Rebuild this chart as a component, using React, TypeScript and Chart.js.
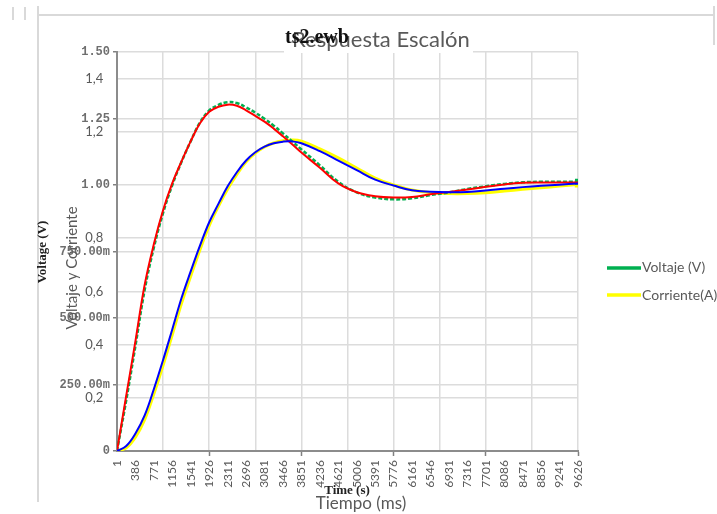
import React, { useEffect, useRef } from "react";
import { Chart, registerables } from "chart.js";

Chart.register(...registerables);

// Category (tick) labels of the time axis, in ms
const categories = [1, 386, 771, 1156, 1541, 1926, 2311, 2696, 3081, 3466, 3851, 4236, 4621, 5006, 5391, 5776, 6161, 6546, 6931, 7316, 7701, 8086, 8471, 8856, 9241, 9626];

// Sample times (ms) at which the curves were read
const timeMs = [1, 193, 386, 578, 771, 963, 1156, 1348, 1541, 1733, 1926, 2118, 2311, 2503, 2696, 2888, 3081, 3273, 3466, 3658, 3851, 4236, 4621, 5006, 5391, 5776, 6161, 6546, 6931, 7316, 7701, 8086, 8471, 8856, 9241, 9626];

// Excel series
const voltajeV = [0, 0.19, 0.395, 0.605, 0.765, 0.895, 1.0, 1.087, 1.165, 1.235, 1.28, 1.301, 1.311, 1.308, 1.292, 1.272, 1.249, 1.223, 1.194, 1.164, 1.134, 1.074, 1.012, 0.972, 0.953, 0.946, 0.95, 0.962, 0.972, 0.985, 0.995, 1.004, 1.01, 1.012, 1.012, 1.012];
const corrienteA = [0, 0.012, 0.052, 0.118, 0.215, 0.322, 0.438, 0.555, 0.658, 0.757, 0.847, 0.92, 0.985, 1.04, 1.087, 1.12, 1.143, 1.158, 1.166, 1.169, 1.165, 1.136, 1.102, 1.064, 1.026, 1.0, 0.981, 0.972, 0.968, 0.968, 0.971, 0.977, 0.984, 0.99, 0.996, 1.003];

// EWB simulation traces
const ewbVoltage = [0, 0.207, 0.413, 0.624, 0.778, 0.905, 1.007, 1.089, 1.165, 1.232, 1.275, 1.294, 1.302, 1.298, 1.281, 1.26, 1.238, 1.212, 1.183, 1.153, 1.122, 1.065, 1.006, 0.973, 0.958, 0.953, 0.955, 0.965, 0.974, 0.983, 0.993, 1.002, 1.008, 1.009, 1.009, 1.009];
const ewbCurrent = [0, 0.019, 0.066, 0.134, 0.233, 0.342, 0.458, 0.575, 0.676, 0.772, 0.86, 0.929, 0.995, 1.048, 1.092, 1.123, 1.144, 1.157, 1.163, 1.164, 1.157, 1.127, 1.092, 1.056, 1.02, 0.998, 0.98, 0.975, 0.973, 0.974, 0.979, 0.986, 0.992, 0.997, 1.001, 1.006];

// Y axis ticks: both the EWB (mono) and the Excel (comma) labels
const yTickValues = [0, 0.2, 0.25, 0.4, 0.5, 0.6, 0.75, 0.8, 1.0, 1.2, 1.25, 1.4, 1.5];
const yTickLabels = ["0", "0,2", "250.00m", "0,4", "500.00m", "0,6", "750.00m", "0,8", "1.00", "1,2", "1.25", "1,4", "1.50"];
const yTickIsEwb = [true, false, true, false, true, false, true, false, true, false, true, false, true];

// EWB grid divisions of the time axis (ms)
const xGridValues = [1, 963.5, 1926, 2888.5, 3851, 4813.5, 5776, 6738.5, 7701, 8663.5, 9626];

const pts = (ys: number[]) => ys.map((y, i) => ({ x: timeMs[i], y }));
const lastMarker = (n: number) => timeMs.map((_, i) => (i === n - 1 ? 2.5 : 0));

const overlayPlugin = {
  id: "overlay",
  beforeDraw(chart: any) {
    const c = chart.ctx;
    c.save();
    c.strokeStyle = "#d9d9d9";
    c.lineWidth = 2;
    c.beginPath();
    c.moveTo(38, 15); c.lineTo(713, 15);
    c.moveTo(38, 6); c.lineTo(38, 502);
    c.moveTo(714, 6); c.lineTo(714, 45);
    c.moveTo(13, 7); c.lineTo(13, 20);
    c.moveTo(25, 7); c.lineTo(25, 20);
    c.stroke();
    c.restore();
  },
  beforeDatasetsDraw(chart: any) {
    const c = chart.ctx;
    c.save();
    c.fillStyle = "#ffffff";
    c.fillRect(284, 40, 189, 13);
    c.restore();
  },
  afterDraw(chart: any) {
    const c = chart.ctx;
    c.save();
    // titles
    c.textBaseline = "middle";
    c.textAlign = "left";
    c.fillStyle = "#595959";
    c.font = "22px Lato";
    c.fillText("Respuesta Escalón", 292, 40);
    c.fillStyle = "#111111";
    c.font = "bold 20px 'Liberation Serif'";
    c.fillText("ts2.ewb", 285, 38);
    // axis titles
    c.save();
    c.translate(43, 252);
    c.rotate(-Math.PI / 2);
    c.textAlign = "center";
    c.fillStyle = "#222222";
    c.font = "bold 13px 'Liberation Serif'";
    c.fillText("Voltage (V)", 0, 0);
    c.restore();
    c.save();
    c.translate(72, 268);
    c.rotate(-Math.PI / 2);
    c.textAlign = "center";
    c.fillStyle = "#595959";
    c.font = "15px Lato";
    c.fillText("Voltaje y Corriente", 0, 0);
    c.restore();
    c.textAlign = "center";
    c.fillStyle = "#595959";
    c.font = "17px Lato";
    c.fillText("Tiempo (ms)", 361, 504);
    c.fillStyle = "#222222";
    c.font = "bold 13px 'Liberation Serif'";
    c.fillText("Time (s)", 347, 491);
    // legend
    c.lineWidth = 3.5;
    c.strokeStyle = "#00B050";
    c.beginPath(); c.moveTo(607, 268); c.lineTo(641, 268); c.stroke();
    c.strokeStyle = "#FFFF00";
    c.beginPath(); c.moveTo(607, 295); c.lineTo(641, 295); c.stroke();
    c.textAlign = "left";
    c.fillStyle = "#595959";
    c.font = "14px Lato";
    c.fillText("Voltaje (V)", 642, 267);
    c.fillText("Corriente(A)", 642, 295);
    c.restore();
  },
};

export default function App() {
  const ref = useRef<HTMLCanvasElement | null>(null);
  useEffect(() => {
    let chart: Chart | null = null;
    let cancelled = false;
    const make = () => {
      if (cancelled || !ref.current) return;
      chart = new Chart(ref.current, {
        type: "line",
        data: {
          datasets: [
            {
              label: "Voltaje (V)",
              data: pts(voltajeV),
              borderColor: "#00B050",
              backgroundColor: "#00B050",
              borderWidth: 2.5,
              borderDash: [4, 2],
              pointRadius: lastMarker(timeMs.length),
              pointStyle: "rect",
              tension: 0.4,
              order: 3,
            },
            {
              label: "Corriente(A)",
              data: pts(corrienteA),
              borderColor: "#FFFF00",
              backgroundColor: "#FFFF00",
              borderWidth: 3,
              pointRadius: lastMarker(timeMs.length),
              pointStyle: "rect",
              tension: 0.4,
              order: 4,
            },
            {
              label: "EWB V",
              data: pts(ewbVoltage),
              borderColor: "#FF0000",
              borderWidth: 2,
              pointRadius: 0,
              tension: 0.4,
              order: 2,
            },
            {
              label: "EWB I",
              data: pts(ewbCurrent),
              borderColor: "#0000FF",
              borderWidth: 2,
              pointRadius: 0,
              tension: 0.4,
              order: 1,
            },
          ],
        },
        options: {
          animation: false,
          responsive: false,
          layout: { padding: { left: 0, top: 52, right: 139, bottom: 0 } },
          plugins: { legend: { display: false }, title: { display: false }, tooltip: { enabled: false } },
          scales: {
            x: {
              type: "linear",
              position: "bottom",
              min: 1,
              max: 9626,
              afterBuildTicks: (s: any) => { s.ticks = categories.map((v) => ({ value: v })); },
              afterFit: (s: any) => { s.height = 63; },
              ticks: {
                autoSkip: false,
                minRotation: 90,
                maxRotation: 90,
                padding: 4,
                color: "#595959",
                font: { family: "Lato", size: 12 },
                callback: (_v: any, i: number) => String(categories[i]),
              },
              grid: {
                drawOnChartArea: false,
                drawTicks: true,
                tickLength: 5,
                tickWidth: 1.5,
                tickColor: (ctx: any) => (ctx.index > 0 && ctx.index % 5 === 0 ? "#808080" : "rgba(0,0,0,0)"),
              },
              border: { display: true, color: "#8c8c8c", width: 2 },
            },
            xg: {
              type: "linear",
              position: "top",
              min: 1,
              max: 9626,
              afterBuildTicks: (s: any) => { s.ticks = xGridValues.map((v) => ({ value: v })); },
              afterFit: (s: any) => { s.height = 0; },
              ticks: { display: false },
              grid: { drawTicks: false, color: "#dcdcdc", lineWidth: 1.5 },
              border: { display: false },
            },
            y: {
              type: "linear",
              position: "left",
              min: 0,
              max: 1.5,
              afterBuildTicks: (s: any) => { s.ticks = yTickValues.map((v) => ({ value: v })); },
              afterFit: (s: any) => { s.width = 117; },
              ticks: {
                autoSkip: false,
                padding: 3,
                callback: (_v: any, i: number) => (yTickIsEwb[i] ? yTickLabels[i] : yTickLabels[i] + "  "),
                font: (ctx: any) =>
                  yTickIsEwb[ctx.index]
                    ? { family: "'Liberation Mono'", size: 12, weight: "bold" }
                    : { family: "Lato", size: 13 },
                color: (ctx: any) => (yTickIsEwb[ctx.index] ? "#6e6e6e" : "#595959"),
              },
              grid: {
                color: "#dcdcdc",
                lineWidth: 1.5,
                tickLength: 4,
                tickWidth: 1.5,
                tickColor: (ctx: any) => (yTickIsEwb[ctx.index] ? "#808080" : "rgba(0,0,0,0)"),
              },
              border: { display: true, color: "#8c8c8c", width: 2 },
            },
          },
        } as any,
        plugins: [overlayPlugin],
      });
    };
    const fonts = ["20px Lato", "bold 16px 'Liberation Serif'", "bold 12px 'Liberation Mono'"];
    Promise.all(fonts.map((f) => (document as any).fonts.load(f).catch(() => null)))
      .then(make, make);
    return () => {
      cancelled = true;
      if (chart) chart.destroy();
    };
  }, []);
  return (
    <div style={{ position: "fixed", left: 0, top: 0, width: 717, height: 514, background: "#ffffff" }}>
      <canvas ref={ref} width={717} height={514} />
    </div>
  );
}
